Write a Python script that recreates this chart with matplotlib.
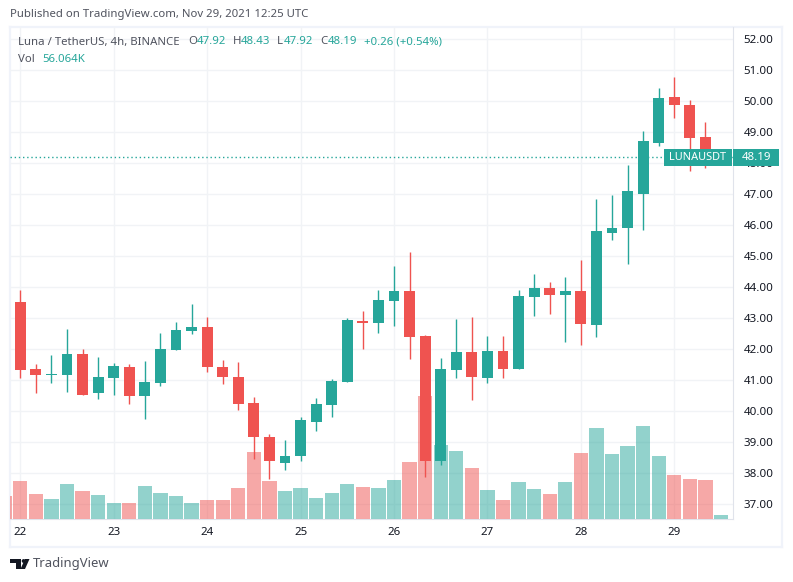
import numpy as np
import matplotlib
matplotlib.use('Agg')
import matplotlib.pyplot as plt
from matplotlib.patches import Rectangle, Polygon, Circle

# Candle index -1 is the one cut off by the left edge, 0 is midnight on the 22nd
OPENS = [43.55, 43.53, 41.37, 41.17, 41.17, 41.85, 40.59, 41.08, 41.43, 40.49, 40.91, 41.98,
         42.59, 42.72, 41.43, 41.11, 40.27, 39.17, 38.33, 38.56, 39.66, 40.20, 40.95, 42.91,
         42.85, 43.56, 43.88, 42.43, 38.40, 41.33, 41.91, 41.08, 41.95, 41.37, 43.69, 43.98,
         43.75, 43.88, 42.78, 45.75, 45.91, 47.01, 48.65, 50.13, 49.87, 48.84, 47.92]
CLOSES = [43.50, 41.33, 41.17, 41.20, 41.85, 40.53, 41.11, 41.46, 40.49, 40.95, 42.01, 42.62,
          42.72, 41.43, 41.11, 40.24, 39.17, 38.38, 38.56, 39.72, 40.24, 40.98, 42.95, 42.85,
          43.59, 43.88, 42.40, 38.40, 41.37, 41.91, 41.11, 41.95, 41.37, 43.72, 43.98, 43.75,
          43.88, 42.82, 45.82, 45.91, 47.11, 48.71, 50.10, 49.87, 48.81, 47.92, 48.19]
HIGHS = [43.60, 43.91, 41.53, 41.82, 42.66, 42.01, 41.75, 41.56, 41.53, 41.62, 42.53, 42.88,
         43.46, 43.04, 41.66, 41.59, 40.46, 39.27, 39.08, 39.82, 40.43, 41.04, 43.01, 43.24,
         43.91, 44.69, 45.14, 42.46, 41.72, 42.98, 43.04, 42.43, 42.43, 43.91, 44.43, 44.17,
         44.33, 44.88, 46.85, 46.98, 47.94, 49.03, 50.42, 50.77, 50.03, 49.32, 48.43]
LOWS = [43.50, 41.08, 40.59, 40.91, 40.62, 40.53, 40.40, 40.53, 40.24, 39.75, 40.82, 41.98,
        42.49, 41.27, 40.88, 40.04, 38.46, 37.82, 38.11, 38.40, 39.37, 39.82, 40.95, 42.01,
        42.53, 42.75, 41.69, 37.88, 38.27, 41.08, 40.37, 40.91, 41.08, 41.37, 43.08, 43.14,
        42.24, 42.14, 42.40, 45.53, 44.73, 45.85, 48.55, 49.45, 47.74, 47.84, 47.92]
# Volume in thousands
VOLUMES = [302, 496, 328, 263, 457, 366, 315, 211, 211, 431, 340, 302, 211, 250, 250, 405,
           871, 496, 366, 405, 276, 340, 457, 418, 405, 509, 741, 1595, 961, 884, 664, 379,
           250, 483, 392, 328, 483, 858, 1181, 845, 948, 1207, 819, 573, 522, 509, 56]

DAY_LABELS = ['22', '23', '24', '25', '26', '27', '28', '29']
PRICE_TICKS = [37, 38, 39, 40, 41, 42, 43, 44, 45, 46, 47, 48, 49, 50, 51, 52]

WIDTH, HEIGHT = 793, 582
GREEN = '#26a69a'
RED = '#ef5350'
GRID = '#f1f3f6'
FRAME = '#f0f3fa'
BORDER = '#e0e3eb'
TEXT = '#131722'
GREY = '#50535e'
FONT = 'Noto Sans'

plt.rcParams['font.family'] = FONT


def px_rect(left, top, right, bottom):
  '''
  Turns a box in image pixels (y going down) into a figure rect.
  '''
  return [left / WIDTH, 1 - bottom / HEIGHT, (right - left) / WIDTH, (bottom - top) / HEIGHT]


def px_text(x, y, s, **kwargs):
  '''
  Writes text at an image pixel position.
  '''
  kwargs.setdefault('va', 'center')
  kwargs.setdefault('fontsize', 8.2)
  fig.text(x / WIDTH, 1 - y / HEIGHT, s, **kwargs)


fig = plt.figure(figsize=(WIDTH / 100, HEIGHT / 100), dpi=100)

# The outer frame around chart and both scales
frame = fig.add_axes(px_rect(10, 27, 782, 547))
frame.set_xticks([])
frame.set_yticks([])
for spine in frame.spines.values():
  spine.set_color(FRAME)
  spine.set_linewidth(1.6)

# The grid and the scales live on the bottom axes
ax = fig.add_axes(px_rect(10, 27, 733, 519))
ax.patch.set_visible(False)
ax.set_xlim(-0.66, 45.77)
ax.set_ylim(36.516, 52.387)

x = np.arange(len(OPENS)) - 1
opens = np.array(OPENS)
closes = np.array(CLOSES)
colors = [GREEN if c >= o else RED for o, c in zip(opens, closes)]

# Volume bars sit at the bottom, under the candles
ax_vol = ax.twinx()
ax_vol.axis('off')
ax_vol.set_ylim(0, 6362)
ax_vol.bar(x, VOLUMES, width=0.92, color=colors, alpha=0.5, linewidth=0)

ax_price = ax.twinx()
ax_price.axis('off')
ax_price.set_ylim(ax.get_ylim())
ax_price.vlines(x, LOWS, HIGHS, colors=colors, linewidth=1)
ax_price.bar(x, np.maximum(np.abs(closes - opens), 0.03), bottom=np.minimum(opens, closes),
             width=0.7, color=colors, linewidth=0)

# The dotted line at the last price
ax_price.axhline(CLOSES[-1], color=GREEN, linewidth=1, linestyle=(0, (1, 2)), zorder=1)

# twinx moves the ticks to the left, so the scales are set up after it
ax.set_yticks(PRICE_TICKS)
ax.set_yticklabels(['%.2f' % p for p in PRICE_TICKS])
ax.set_xticks(np.arange(len(DAY_LABELS)) * 6)
ax.set_xticklabels(DAY_LABELS)
ax.yaxis.tick_right()
ax.tick_params(axis='both', length=0, labelsize=8.3, labelcolor=TEXT)
ax.tick_params(axis='y', pad=7.5)
ax.tick_params(axis='x', pad=6)
ax.grid(True, color=GRID, linewidth=1)
ax.set_axisbelow(True)
for a in [ax, ax_vol, ax_price]:
  for side in ['top', 'left']:
    a.spines[side].set_visible(False)
for side in ['right', 'bottom']:
  ax.spines[side].set_color(BORDER)

# Last price labels over the scale
fig.add_artist(Rectangle((664 / WIDTH, 1 - 166 / HEIGHT), 68 / WIDTH, 17 / HEIGHT,
                         transform=fig.transFigure, color=GREEN, linewidth=0))
fig.add_artist(Rectangle((733 / WIDTH, 1 - 166 / HEIGHT), 46 / WIDTH, 17 / HEIGHT,
                         transform=fig.transFigure, color=GREEN, linewidth=0))
px_text(698, 157.5, 'LUNAUSDT', color='white', ha='center', fontsize=7.9, fontweight='bold')
px_text(756, 157.5, '%.2f' % CLOSES[-1], color='white', ha='center', fontsize=8.2, fontweight='bold')

# Header texts
px_text(10, 14.5, 'Published on TradingView.com, Nov 29, 2021 12:25 UTC', color=GREY)
px_text(18, 42, 'Luna / TetherUS, 4h, BINANCE', color=GREY)
for pos, label in [(188, 'O'), (233, 'H'), (277, 'L'), (320, 'C')]:
  px_text(pos, 42, label, color=GREY)
for pos, label in [(197, '47.92'), (241, '48.43'), (284, '47.92'), (328, '48.19'), (364, '+0.26 (+0.54%)')]:
  px_text(pos, 42, label, color=GREEN)
px_text(18, 59, 'Vol', color=GREY)
px_text(42, 59, '56.064K', color=GREEN)

# TradingView logo and name
logo = fig.add_axes([0, 0, 1, 1], zorder=5)
logo.axis('off')
logo.set_xlim(0, WIDTH)
logo.set_ylim(HEIGHT, 0)
logo.add_patch(Polygon([(10, 559), (21, 559), (21, 569), (16, 569), (16, 563), (10, 563)], color='#131722', linewidth=0))
logo.add_patch(Circle((23.6, 561), 1.9, color='#131722', linewidth=0))
logo.add_patch(Polygon([(25, 569), (20.5, 569), (25, 559), (29.5, 559)], color='#131722', linewidth=0))
px_text(33, 564, 'TradingView', color=GREY, fontsize=9.4)

plt.savefig('out.png', dpi=100)
